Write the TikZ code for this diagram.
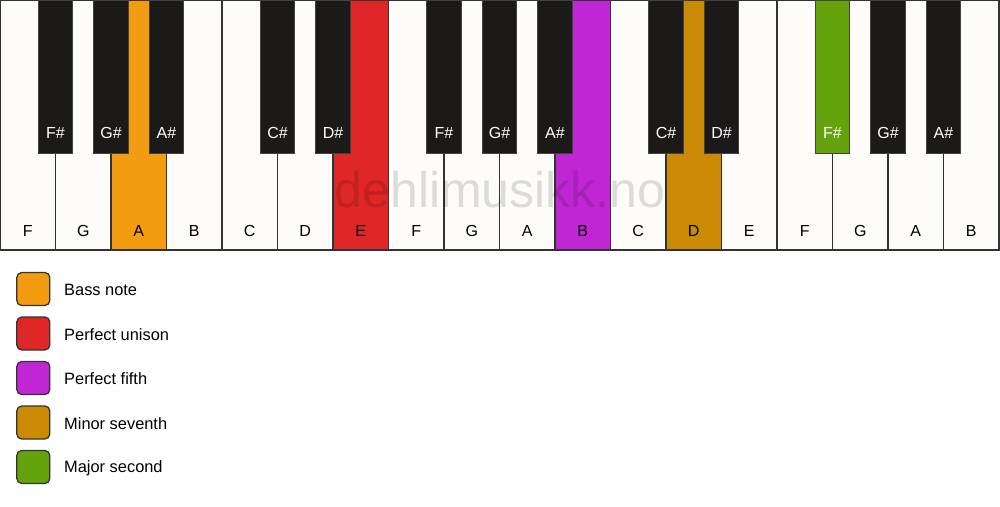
\documentclass[tikz,border=0pt]{standalone}
\usepackage{fontspec}
\setmainfont{Liberation Sans}
\usetikzlibrary{calc}
\definecolor{keywhite}{HTML}{FEFCF8}
\definecolor{keyblack}{HTML}{1B1A19}
\definecolor{keyline}{HTML}{333333}
\definecolor{cbass}{HTML}{F39C11}
\definecolor{cunison}{HTML}{DF2727}
\definecolor{cfifth}{HTML}{C026D3}
\definecolor{cseventh}{HTML}{CA8A04}
\definecolor{csecond}{HTML}{65A30D}
\begin{document}
\begin{tikzpicture}[x=1pt,y=-1pt,
  whitekey/.style={draw=keyline,line width=1.3pt,fill=keywhite,minimum width=55.5pt,minimum height=250pt,anchor=north west,inner sep=0pt,outer sep=0pt},
  blackkey/.style={draw=keyline!80!gray,line width=1pt,fill=keyblack,minimum width=34.5pt,minimum height=153pt,anchor=north,inner sep=0pt,outer sep=0pt},
  wlabel/.style={font=\fontsize{16}{16}\selectfont,text=black,inner sep=0pt},
  blabel/.style={font=\fontsize{16}{16}\selectfont,text=white,inner sep=0pt},
  legbox/.style={draw=keyline,line width=1.3pt,rounded corners=5pt,minimum width=33pt,minimum height=33pt,inner sep=0pt},
  legtext/.style={font=\fontsize{16.4}{16.4}\selectfont,anchor=west,inner sep=0pt},
  watermark/.style={font=\fontsize{50}{50}\selectfont,text=black,opacity=0.13,inner sep=0pt,anchor=base}
]
\useasboundingbox (0,0) rectangle (1000,506);
\fill[white] (0,0) rectangle (1000,506);
% white keys
\foreach \i/\n/\c in {0/F/keywhite,1/G/keywhite,2/A/cbass,3/B/keywhite,4/C/keywhite,5/D/keywhite,6/E/cunison,7/F/keywhite,8/G/keywhite,9/A/keywhite,10/B/cfifth,11/C/keywhite,12/D/cseventh,13/E/keywhite,14/F/keywhite,15/G/keywhite,16/A/keywhite,17/B/keywhite}{
  \node[whitekey,fill=\c] (w\i) at (55.5*\i,0) {};
  \node[wlabel] (wl\i) at ($(w\i.south)+(0,-19.5)$) {\n};
}
% black keys
\foreach \b/\n/\c in {1/F\#/keyblack,2/G\#/keyblack,3/A\#/keyblack,5/C\#/keyblack,6/D\#/keyblack,8/F\#/keyblack,9/G\#/keyblack,10/A\#/keyblack,12/C\#/keyblack,13/D\#/keyblack,15/F\#/csecond,16/G\#/keyblack,17/A\#/keyblack}{
  \node[blackkey,fill=\c] (b\b) at (55.5*\b,0) {};
  \node[blabel] (bl\b) at ($(b\b.south)+(0,-20)$) {\n};
}
% watermark
\node[watermark] (wm) at (500,207) {dehlimusikk.no};
% legend
\foreach \k/\c/\t in {0/cbass/Bass note,1/cunison/Perfect unison,2/cfifth/Perfect fifth,3/cseventh/Minor seventh,4/csecond/Major second}{
  \node[legbox,fill=\c] (lb\k) at (33.3,289+44.5*\k) {};
  \node[legtext] (lt\k) at (64,290+44.5*\k) {\t};
}
\end{tikzpicture}
\end{document}
